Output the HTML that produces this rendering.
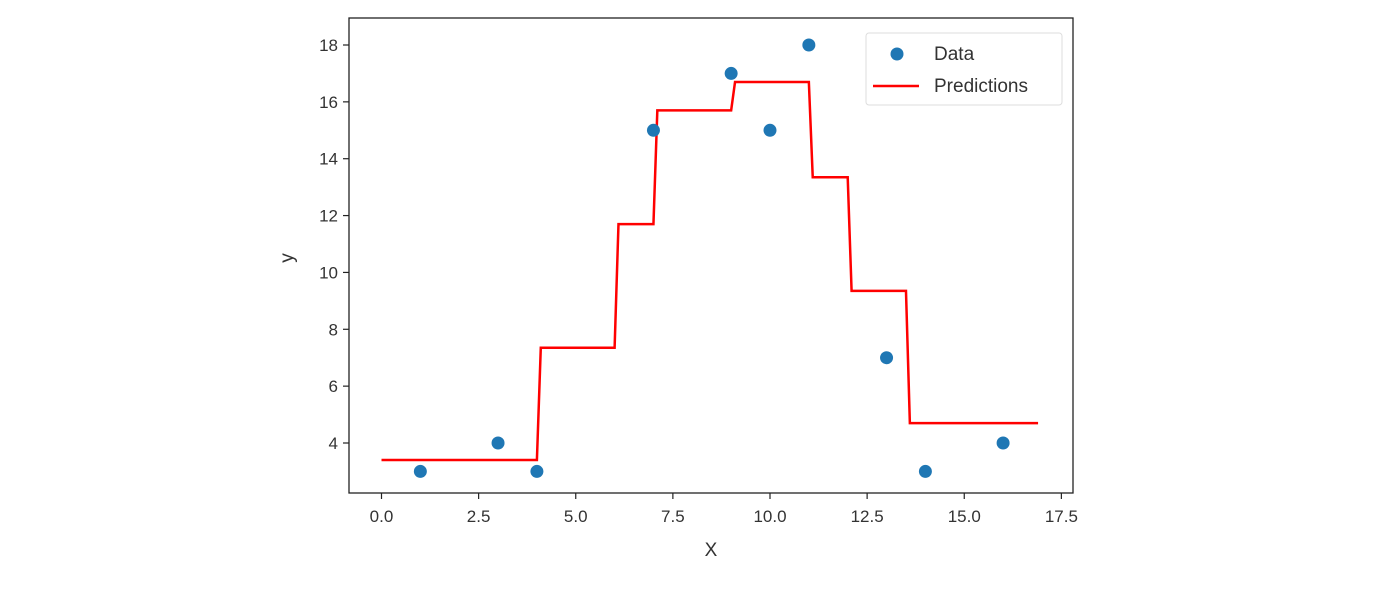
<!DOCTYPE html>
<html><head><meta charset="utf-8"><style>
html,body{margin:0;padding:0;background:#fff}
svg{display:block}
text{font-family:"Liberation Sans","DejaVu Sans",sans-serif;fill:#333}
</style></head><body>
<svg id="chart" width="1400" height="593" viewBox="0 0 1400 593" xmlns="http://www.w3.org/2000/svg">
<g id="grid"></g>
<g id="marks"></g>
<rect x="349" y="18" width="724" height="475" fill="none" stroke="#222" stroke-width="1.3"/>
<g id="axes"></g>
<text x="711" y="556" font-size="19" text-anchor="middle">X</text>
<text x="293" y="258" font-size="19" text-anchor="middle" transform="rotate(-90 293 258)">y</text>
<g>
<rect x="866" y="33" width="196" height="72" rx="3" fill="#fff" stroke="#ddd"/>
<circle cx="897" cy="54" r="6.5" fill="#1f77b4"/>
<text x="934" y="60" font-size="19">Data</text>
<line x1="873" y1="86" x2="919" y2="86" stroke="#ff0000" stroke-width="2.5"/>
<text x="934" y="92" font-size="19">Predictions</text>
</g>
</svg>
<script>
const dataX = [1,3,4,7,9,10,11,13,14,16];
const dataY = [3,4,3,15,17,15,18,7,3,4];
const stepStart = [0,4.1,6.1,7.1,9.1,11.1,12.1,13.6];
const stepEnd = [4.0,6.0,7.0,9.0,11.0,12.0,13.5,16.9];
const stepValue = [3.4,7.35,11.7,15.7,16.7,13.35,9.35,4.7];
const xTicks = [0,2.5,5,7.5,10,12.5,15,17.5];
const xTickLabels = ["0.0","2.5","5.0","7.5","10.0","12.5","15.0","17.5"];
const yTicks = [4,6,8,10,12,14,16,18];
const yTickLabels = ["4","6","8","10","12","14","16","18"];

const NS="http://www.w3.org/2000/svg";
function xs(v){return 381.5+v*38.85;}
function ys(v){return 443-(v-4)*(443-45)/14;}
function mk(tag,attrs,parent){const e=document.createElementNS(NS,tag);for(const k in attrs)e.setAttribute(k,attrs[k]);parent.appendChild(e);return e;}
const axes=document.getElementById('axes'), marks=document.getElementById('marks');
xTicks.forEach((t,i)=>{
  const l=mk('line',{x1:xs(t),x2:xs(t),y1:493,y2:499,stroke:'#222','stroke-width':1.2},axes);
  
  
  const tx=mk('text',{x:xs(t),y:522,'font-size':17,'text-anchor':'middle'},axes);
  tx.textContent=xTickLabels[i];
  
  
});
yTicks.forEach((t,i)=>{
  const l=mk('line',{x1:343,x2:349,y1:ys(t),y2:ys(t),stroke:'#222','stroke-width':1.2},axes);
  
  
  const tx=mk('text',{x:338,y:ys(t)+6,'font-size':17,'text-anchor':'end'},axes);
  tx.textContent=yTickLabels[i];
  
  
});
let pts=[];
stepStart.forEach((s,i)=>{pts.push(xs(s)+','+ys(stepValue[i]));pts.push(xs(stepEnd[i])+','+ys(stepValue[i]));});
const pl=mk('polyline',{points:pts.join(' '),fill:'none',stroke:'#ff0000','stroke-width':2.5},marks);


dataX.forEach((x,i)=>{
  const c=mk('circle',{cx:xs(x),cy:ys(dataY[i]),r:6.5,fill:'#1f77b4'},marks);
  
  
});
</script>
</body></html>
